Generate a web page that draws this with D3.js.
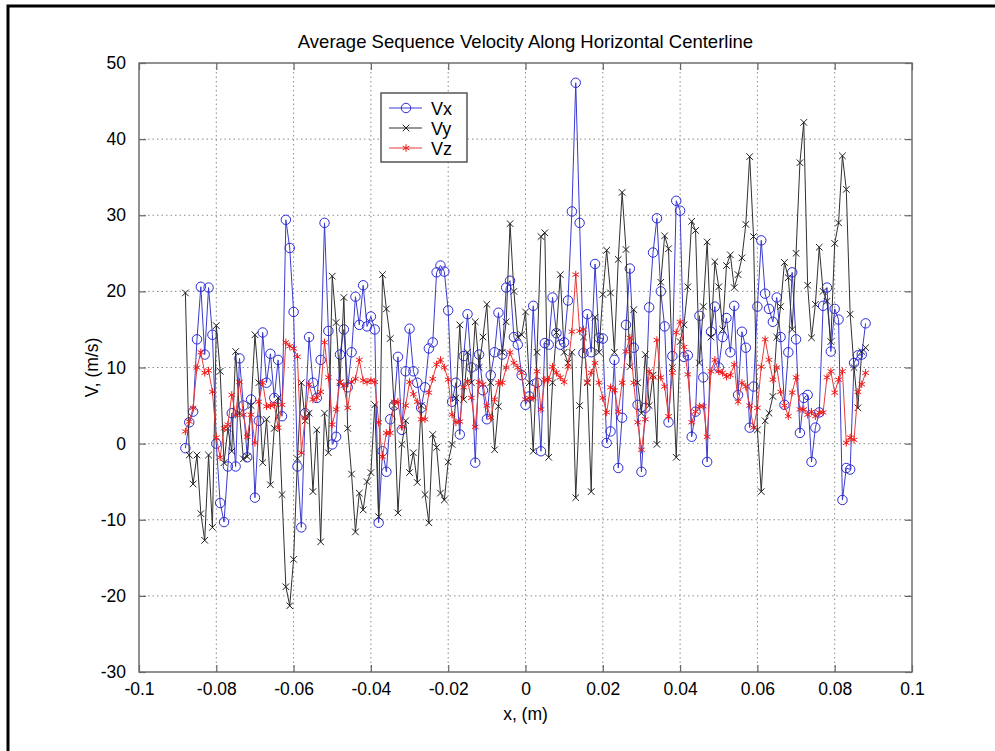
<!DOCTYPE html>
<html>
<head>
<meta charset="utf-8">
<script src="https://cdn.jsdelivr.net/npm/d3@7"></script>
<style>
  html, body { margin: 0; padding: 0; background: #fff; overflow: hidden; }
  svg { display: block; }
  svg text { font-family: "Liberation Sans", Arial, sans-serif; fill: #000; }
</style>
</head>
<body>
<svg id="chart" width="995" height="751"></svg>
<script>
// sample positions along the centerline, in mm
const xMm = [-88,-87,-86,-85,-84,-83,-82,-81,-80,-79,-78,-77,-76,-75,-74,-73,-72,-71,-70,-69,
  -68,-67,-66,-65,-64,-63,-62,-61,-60,-59,-58,-57,-56,-55,-54,-53,-52,-51,-50,-49,
  -48,-47,-46,-45,-44,-43,-42,-41,-40,-39,-38,-37,-36,-35,-34,-33,-32,-31,-30,-29,
  -28,-27,-26,-25,-24,-23,-22,-21,-20,-19,-18,-17,-16,-15,-14,-13,-12,-11,-10,-9,
  -8,-7,-6,-5,-4,-3,-2,-1,0,1,2,3,4,5,6,7,8,9,10,11,
  12,13,14,15,16,17,18,19,20,21,22,23,24,25,26,27,28,29,30,31,
  32,33,34,35,36,37,38,39,40,41,42,43,44,45,46,47,48,49,50,51,
  52,53,54,55,56,57,58,59,60,61,62,63,64,65,66,67,68,69,70,71,
  72,73,74,75,76,77,78,79,80,81,82,83,84,85,86,87,88];

const vx = [-0.6,2.8,4.2,13.7,20.6,11.7,20.5,14.3,0,-7.8,-10.3,-3,4,-3,11.2,5,-1.8,5.8,-7.1,3,
  14.6,8,11.8,6,11,3.6,29.4,25.7,17.3,-3,-11,4,14,8,6,11,29,14.8,-0.1,0.9,
  11.7,15,7.4,12,19.3,15.6,20.8,15.4,16.7,15,-10.4,-1,-3.7,3.2,5,11.4,1.8,9.5,15.1,9.5,
  8,4.7,7.4,12.5,13.3,22.5,23.4,22.6,17.5,5.5,8,1.2,11.5,17,10,-2.5,11.7,7,3.2,9,
  12,17.2,11.7,20.5,21.4,14,13,9,5.1,6.2,18.1,8,-1,13.2,13,19.2,14.5,13,13.3,18.8,
  30.5,47.4,29,11.9,17,12,23.6,13.9,13.8,0.1,1.6,11,-3.2,3.4,15.6,23,12.6,5.1,-3.7,4.7,
  17.9,25.1,29.6,20,15.4,2.8,11.5,31.9,30.6,11.4,11.6,0.9,4.2,16.8,8.7,-2.4,14.7,18,10,14,
  16.5,12,18.1,6.4,14.7,12.6,2.1,7.5,18,26.7,19.7,17.7,16,19.2,14,5.1,12,22.5,13.7,1.4,
  6,6.4,-2.4,2.1,4.1,18.1,20.5,12.1,17.7,16.3,-7.4,-3.2,-3.4,10.6,11.6,11.7,15.8];

const vy = [19.8,-1.5,-5.3,-1.5,-9.2,-12.7,-1.5,-11,15.5,9.5,-2.5,2,-1,12.1,4,-2,-1.7,5,14.3,8,
  -2.5,3.2,-5.4,2,6,-6.7,-18.8,-21.3,-15.2,-2,8,3,4,-6.3,1.8,-12.9,4,-1.2,22,15.9,
  8,19.2,2,-4,-11.6,-6.5,-8.7,-5,-3.8,5.1,-9.6,22.2,17.7,13.8,5,-9.1,-0.1,3,-3.8,-1.2,
  -5.1,5,-6.7,-10.4,1.2,-0.5,-6.5,-7.4,-2.4,-0.1,6,15.6,5.8,12,8,16,10,14,18.3,8,
  -0.8,4.9,12,16,28.9,20,14,14.3,17.3,8,-1,12,27.2,27.7,-1.8,8,14.6,22.2,12,10.6,
  12,-7.1,5,14,8,-6.3,16.6,12,19.6,25.4,19.8,12,24.2,33,25.5,10.1,17.6,8,4,11.7,
  5,9,-0.1,21.2,27.3,25.6,10,-1.8,13.4,15.6,20.6,29.2,28,10.6,18,26.5,14,23.9,20.6,15,
  23.4,24.8,20.5,22.2,24.4,28.8,37.7,27.2,1.8,-6.3,3,4,6.2,14,18,23.8,21.8,15,25,36.9,
  42.2,20.8,13.9,18.3,25.8,20,18.7,13.4,26.3,29,37.8,33.4,17,10,4.7,12.1,12.6];

const vz = [1.6,2.9,4.7,10,12,9.3,9.6,6.8,0.8,-1.8,2,2.5,6.4,3.8,8.1,3.8,0.9,3.8,0.1,5.5,
  8,4.9,5,5.1,2.1,5.1,13.3,12.8,12.5,11.4,-1.2,3.4,7.8,5.8,6,6.8,13.3,8.7,2.5,4.5,
  8.1,7.6,4.7,8.1,8.5,11,8.3,8.1,8.3,8.1,2.8,-1.7,1.4,1.4,5.5,5.5,2.2,5,8.1,6.5,
  5.5,3.2,3.2,6.7,8.5,10.4,11,10,8.4,3.8,2.8,2.9,7.4,8.2,6,2.2,8.1,7.8,5,3.4,
  5.8,8,8,10,12,10.6,10,9.3,5.8,6,6,9.5,4.5,8.4,8.4,10.1,9.3,8.7,8.1,10.1,
  14.7,22.2,14.8,15,8,9.3,10.6,8,6,4.1,7.4,7,4.2,8,12.1,13.9,8,2.8,-0.8,3.2,
  9.5,8.7,13.6,8.7,7.5,3.6,9.3,14.6,16,12.7,9.1,2.8,4.2,4.9,4.9,0.9,9.5,11,9.5,9.3,
  8.8,9,10.4,5.5,8,7.5,5,2.1,4.7,10.1,13.7,11,8.4,10,6.8,5,3.6,6.7,8.7,4.5,
  4.5,3.8,4.2,3.6,4.1,4.1,8.7,9.5,6.7,8.4,9.5,0.1,0.8,0.5,6.8,7.8,9.3];

const seriesNames = ['Vx', 'Vy', 'Vz'];
const xTicks = [-0.1, -0.08, -0.06, -0.04, -0.02, 0, 0.02, 0.04, 0.06, 0.08, 0.1];
const xTickLabels = ['-0.1', '-0.08', '-0.06', '-0.04', '-0.02', '0', '0.02', '0.04', '0.06', '0.08', '0.1'];
const yTicks = [-30, -20, -10, 0, 10, 20, 30, 40, 50];
const yTickLabels = ['-30', '-20', '-10', '0', '10', '20', '30', '40', '50'];

const plot = { left: 139, right: 912, top: 63, bottom: 672 };

const svg = d3.select('#chart');

// outer figure frame (right and bottom edges fall outside the picture)
svg.append('rect')
  .attr('x', 8).attr('y', 6)
  .attr('width', 1000).attr('height', 760)
  .attr('fill', 'none')
  .attr('stroke', '#000')
  .attr('stroke-width', 3);

const x = d3.scaleLinear().domain([-0.1, 0.1]).range([plot.left, plot.right]);
const y = d3.scaleLinear().domain([-30, 50]).range([plot.bottom, plot.top]);

// grid
const grid = svg.append('g').attr('stroke', '#8a8a8a').attr('stroke-width', 1)
  .attr('stroke-dasharray', '1.5,3');
grid.selectAll('.gx').data(xTicks.slice(1, -1)).enter().append('line')
  .attr('x1', d => x(d)).attr('x2', d => x(d))
  .attr('y1', plot.top).attr('y2', plot.bottom);
grid.selectAll('.gy').data(yTicks.slice(1, -1)).enter().append('line')
  .attr('x1', plot.left).attr('x2', plot.right)
  .attr('y1', d => y(d)).attr('y2', d => y(d));

// axes, ticks pointing inward on all four sides
const tickLen = 7;
const axisStyle = g => {
  g.select('.domain').remove();
  g.selectAll('.tick line').attr('stroke', '#666').attr('stroke-width', 1.2);
  g.selectAll('.tick text')
    .style('font-size', '17.5px')
    .attr('fill', '#000');
};

svg.append('g')
  .attr('transform', `translate(0,${plot.bottom})`)
  .call(d3.axisBottom(x).tickValues(xTicks).tickSize(-tickLen).tickPadding(tickLen + 4)
    .tickFormat((d, i) => xTickLabels[i]))
  .call(axisStyle);

svg.append('g')
  .attr('transform', `translate(0,${plot.top})`)
  .call(d3.axisTop(x).tickValues(xTicks).tickSize(-tickLen).tickFormat(''))
  .call(axisStyle);

svg.append('g')
  .attr('transform', `translate(${plot.left},0)`)
  .call(d3.axisLeft(y).tickValues(yTicks).tickSize(-tickLen).tickPadding(tickLen + 6)
    .tickFormat((d, i) => yTickLabels[i]))
  .call(axisStyle);

svg.append('g')
  .attr('transform', `translate(${plot.right},0)`)
  .call(d3.axisRight(y).tickValues(yTicks).tickSize(-tickLen).tickFormat(''))
  .call(axisStyle);

svg.append('rect')
  .attr('x', plot.left).attr('y', plot.top)
  .attr('width', plot.right - plot.left).attr('height', plot.bottom - plot.top)
  .attr('fill', 'none').attr('stroke', '#6e6e6e').attr('stroke-width', 1.5);

// series
const styles = {
  Vx: { color: '#2a2ad8', line: '#3a3ad0', symbol: d3.symbolCircle, size: 70 },
  Vy: { color: '#202020', line: '#303030', symbol: d3.symbolX, size: 30 },
  Vz: { color: '#f01818', line: '#e83a3a', symbol: d3.symbolAsterisk, size: 40 }
};
const seriesValues = { Vx: vx, Vy: vy, Vz: vz };

const line = d3.line().x(d => x(d[0])).y(d => y(d[1]));

seriesNames.forEach(name => {
  const st = styles[name];
  const pts = seriesValues[name].map((v, i) => [xMm[i] / 1000, v]);
  const g = svg.append('g');
  g.append('path')
    .datum(pts)
    .attr('d', line)
    .attr('fill', 'none')
    .attr('stroke', st.line)
    .attr('stroke-width', 1);
  g.selectAll('path.mk').data(pts).enter().append('path')
    .attr('class', 'mk')
    .attr('transform', d => `translate(${x(d[0])},${y(d[1])})`)
    .attr('d', d3.symbol().type(st.symbol).size(st.size))
    .attr('fill', 'none')
    .attr('stroke', st.color)
    .attr('stroke-width', 1);
});

// legend
const legend = svg.append('g').attr('transform', 'translate(381,93)');
legend.append('rect')
  .attr('width', 86).attr('height', 69)
  .attr('fill', '#fff').attr('stroke', '#555').attr('stroke-width', 1.5);
seriesNames.forEach((name, i) => {
  const st = styles[name];
  const row = legend.append('g').attr('transform', `translate(0,${15 + i * 20})`);
  row.append('line')
    .attr('x1', 8).attr('x2', 41).attr('y1', 0).attr('y2', 0)
    .attr('stroke', st.line).attr('stroke-width', 1);
  row.append('path')
    .attr('transform', 'translate(25,0)')
    .attr('d', d3.symbol().type(st.symbol).size(st.size))
    .attr('fill', 'none').attr('stroke', st.color).attr('stroke-width', 1);
  row.append('text')
    .attr('x', 50).attr('y', 6.5)
    .style('font-size', '18px')
    .text(name);
});

// titles
svg.append('text')
  .attr('x', (plot.left + plot.right) / 2).attr('y', 48)
  .attr('text-anchor', 'middle')
  .style('font-size', '18.5px')
  .text('Average Sequence Velocity Along Horizontal Centerline');

svg.append('text')
  .attr('x', (plot.left + plot.right) / 2).attr('y', 720)
  .attr('text-anchor', 'middle')
  .style('font-size', '17.5px')
  .text('x, (m)');

svg.append('text')
  .attr('transform', `translate(98,${(plot.top + plot.bottom) / 2}) rotate(-90)`)
  .attr('text-anchor', 'middle')
  .style('font-size', '17.5px')
  .text('V, (m/s)');
</script>
</body>
</html>
